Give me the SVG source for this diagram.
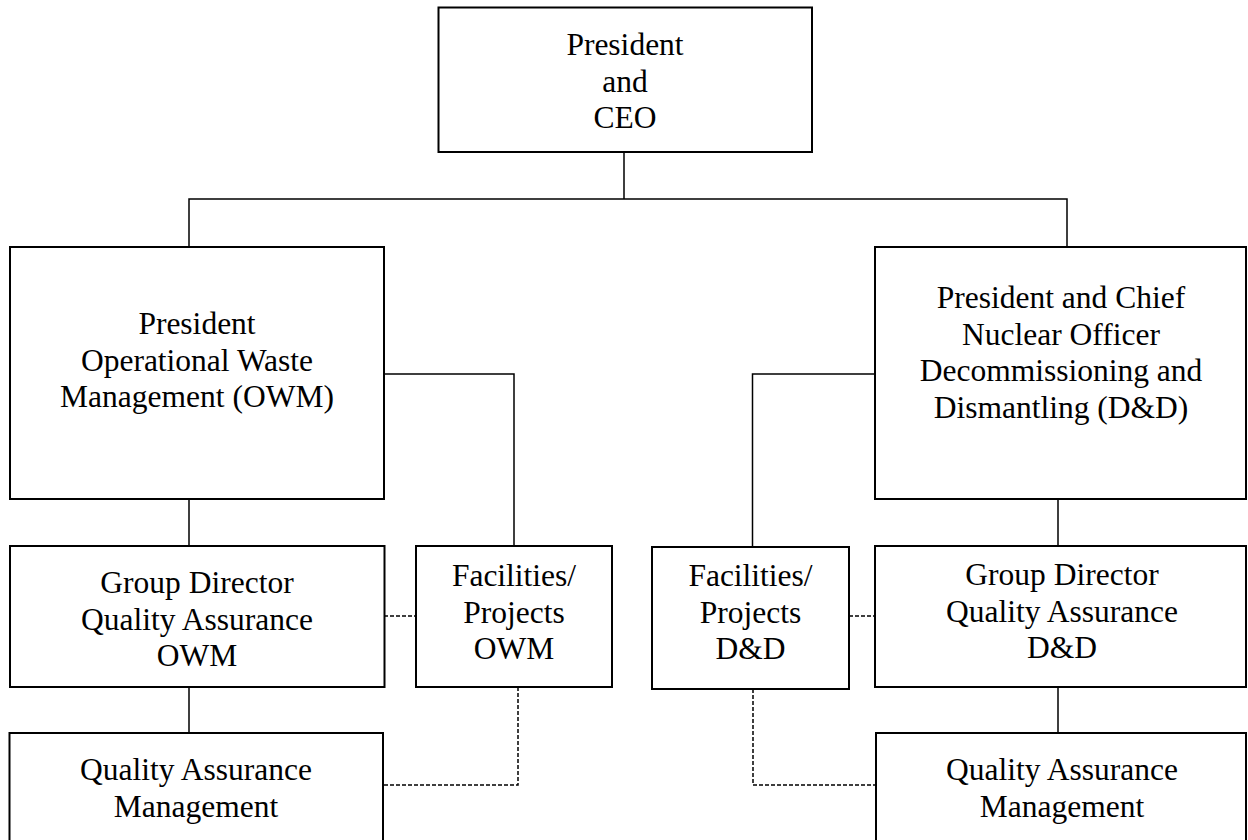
<svg xmlns="http://www.w3.org/2000/svg" width="1248" height="840" viewBox="0 0 1248 840">
<style>
.box{fill:#fff;stroke:#000;stroke-width:2}
.t{font-family:"Liberation Serif","Times New Roman",serif;font-size:31.5px;fill:#000;text-anchor:middle}
.c{fill:none;stroke:#000;stroke-width:1.5}
.d{fill:none;stroke:#000;stroke-width:1.5;stroke-dasharray:4,2}
</style>
<rect width="1248" height="840" fill="#fff"/>
<g id="connectors">
<path class="c" d="M624 152V199M189 247V199H1067V247"/>
<path class="c" d="M384 374H514V546"/>
<path class="c" d="M875 374H752.5V547"/>
<path class="c" d="M189 499V546M189 687V733"/>
<path class="c" d="M1058 499V546M1058 687V733"/>
<path class="d" d="M384 616H416"/>
<path class="d" d="M849 616H875"/>
<path class="d" d="M518 687V785H383"/>
<path class="d" d="M753 689V785H876"/>
</g>
<g id="ceo"><rect class="box" x="438.5" y="7.5" width="373.5" height="144.5"/>
<text class="t" x="625" y="55">President</text><text class="t" x="625" y="91.5">and</text><text class="t" x="625" y="128">CEO</text></g>
<g id="owm"><rect class="box" x="10" y="247" width="374" height="252"/>
<text class="t" x="197" y="334">President</text><text class="t" x="197" y="370.5">Operational Waste</text><text class="t" x="197" y="407">Management (OWM)</text></g>
<g id="dd"><rect class="box" x="875" y="247" width="371" height="252"/>
<text class="t" x="1061" y="308">President and Chief</text><text class="t" x="1061" y="344.5">Nuclear Officer</text><text class="t" x="1061" y="381">Decommissioning and</text><text class="t" x="1061" y="417.5">Dismantling (D&amp;D)</text></g>
<g id="gd-owm"><rect class="box" x="10" y="546" width="374.5" height="141"/>
<text class="t" x="197" y="593">Group Director</text><text class="t" x="197" y="629.5">Quality Assurance</text><text class="t" x="197" y="666">OWM</text></g>
<g id="fac-owm"><rect class="box" x="416" y="546" width="196" height="141"/>
<text class="t" x="514" y="586">Facilities/</text><text class="t" x="514" y="622.5">Projects</text><text class="t" x="514" y="659">OWM</text></g>
<g id="qa-owm"><rect class="box" x="9.5" y="733" width="373.5" height="110"/>
<text class="t" x="196" y="780">Quality Assurance</text><text class="t" x="196" y="816.5">Management</text></g>
<g id="fac-dd"><rect class="box" x="652" y="547" width="197" height="142"/>
<text class="t" x="750.5" y="586">Facilities/</text><text class="t" x="750.5" y="622.5">Projects</text><text class="t" x="750.5" y="659">D&amp;D</text></g>
<g id="gd-dd"><rect class="box" x="875" y="546" width="371" height="141"/>
<text class="t" x="1062" y="585">Group Director</text><text class="t" x="1062" y="621.5">Quality Assurance</text><text class="t" x="1062" y="658">D&amp;D</text></g>
<g id="qa-dd"><rect class="box" x="876" y="733" width="370" height="110"/>
<text class="t" x="1062" y="780">Quality Assurance</text><text class="t" x="1062" y="816.5">Management</text></g>
</svg>
